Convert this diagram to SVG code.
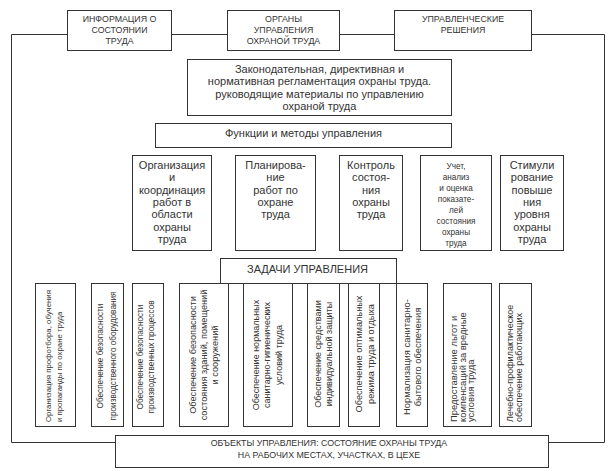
<svg xmlns="http://www.w3.org/2000/svg" width="615" height="470" viewBox="0 0 615 470">
<style>
rect{fill:#fff;stroke:#333;stroke-width:1}
.c{fill:none;stroke:#333;stroke-width:1}
text{font-family:"Liberation Sans",Arial,sans-serif;fill:#333;text-anchor:middle}
.t9{font-size:8.8px}
.t11{font-size:11px}
.t8{font-size:8.2px}
.s{text-anchor:start}
</style>
<rect x="0" y="0" width="615" height="470" style="stroke:none"/>
<g id="connectors">
<path class="c" d="M67.5 34.5H11.5V442.5H115.5"/>
<path class="c" d="M171.5 34.5H227.5"/>
<path class="c" d="M339.5 34.5H394.5"/>
<path class="c" d="M531.5 34.5H604.5V442.5H548.5"/>
</g>
<g id="info">
<rect x="67.5" y="10.5" width="104" height="40"/>
<text class="t9"><tspan x="119.5" y="22.3">ИНФОРМАЦИЯ О</tspan><tspan x="119.5" y="33.3">СОСТОЯНИИ</tspan><tspan x="119.5" y="44.3">ТРУДА</tspan></text>
</g>
<g id="organs">
<rect x="227.5" y="10.5" width="112" height="40"/>
<text class="t9"><tspan x="283.5" y="22.3">ОРГАНЫ</tspan><tspan x="283.5" y="33.3">УПРАВЛЕНИЯ</tspan><tspan x="283.5" y="44.3">ОХРАНОЙ ТРУДА</tspan></text>
</g>
<g id="decisions">
<rect x="394.5" y="10.5" width="137" height="40"/>
<text class="t9"><tspan x="463" y="22.3">УПРАВЛЕНЧЕСКИЕ</tspan><tspan x="463" y="33.3">РЕШЕНИЯ</tspan></text>
</g>
<g id="law">
<rect x="187.5" y="59.5" width="264" height="56"/>
<text class="t11"><tspan x="319.5" y="73">Законодательная, директивная и</tspan><tspan x="319.5" y="85.3">нормативная регламентация охраны труда.</tspan><tspan x="319.5" y="97.6">руководящие материалы по управлению</tspan><tspan x="319.5" y="110">охраной труда</tspan></text>
</g>
<g id="functions">
<rect x="155.5" y="123.5" width="296" height="24"/>
<text class="t11" x="303.5" y="137">Функции и методы управления</text>
</g>
<g id="f-org">
<rect x="132.5" y="155.5" width="79" height="95"/>
<text class="t11"><tspan x="172" y="169">Организация</tspan><tspan x="172" y="181.3">и</tspan><tspan x="172" y="193.6">координация</tspan><tspan x="172" y="206">работ в</tspan><tspan x="172" y="218.2">области</tspan><tspan x="172" y="230.5">охраны</tspan><tspan x="172" y="242.8">труда</tspan></text>
</g>
<g id="f-plan">
<rect x="235.5" y="155.5" width="80" height="95"/>
<text class="t11"><tspan x="275.5" y="169">Планирова-</tspan><tspan x="275.5" y="181.3">ние</tspan><tspan x="275.5" y="193.6">работ по</tspan><tspan x="275.5" y="206">охране</tspan><tspan x="275.5" y="218.2">труда</tspan></text>
</g>
<g id="f-control">
<rect x="339.5" y="155.5" width="63" height="95"/>
<text class="t11"><tspan x="371" y="169">Контроль</tspan><tspan x="371" y="181.3">состоя-</tspan><tspan x="371" y="193.6">ния</tspan><tspan x="371" y="206">охраны</tspan><tspan x="371" y="218.2">труда</tspan></text>
</g>
<g id="f-account">
<rect x="420.5" y="155.5" width="71" height="95"/>
<text class="t8"><tspan x="456" y="168.5">Учет,</tspan><tspan x="456" y="179.6">анализ</tspan><tspan x="456" y="190.7">и оценка</tspan><tspan x="456" y="201.8">показате-</tspan><tspan x="456" y="212.9">лей</tspan><tspan x="456" y="224">состояния</tspan><tspan x="456" y="235.1">охраны</tspan><tspan x="456" y="246.2">труда</tspan></text>
</g>
<g id="f-stim">
<rect x="500.5" y="155.5" width="63" height="95"/>
<text class="t11"><tspan x="532" y="169">Стимули</tspan><tspan x="532" y="181.3">рование</tspan><tspan x="532" y="193.6">повыше</tspan><tspan x="532" y="206">ния</tspan><tspan x="532" y="218.2">уровня</tspan><tspan x="532" y="230.5">охраны</tspan><tspan x="532" y="242.8">труда</tspan></text>
</g>
<g id="task1">
<rect x="35.5" y="283.5" width="40" height="143"/>
<text class="s" style="font-size:7.8px" transform="translate(50.5,422) rotate(-90)"><tspan x="0" y="0">Организация профотбора, обучения</tspan><tspan x="0" y="11.5">и пропаганды по охране труда</tspan></text>
</g>
<g id="task2">
<rect x="91.5" y="283.5" width="32" height="143"/>
<text style="font-size:8.2px" transform="translate(102.5,356) rotate(-90)"><tspan x="0" y="0">Обеспечение безопасности</tspan><tspan x="0" y="13">производственного оборудования</tspan></text>
</g>
<g id="task3">
<rect x="132.5" y="283.5" width="31" height="143"/>
<text style="font-size:8.2px" transform="translate(142.5,357) rotate(-90)"><tspan x="0" y="0">Обеспечение безопасности</tspan><tspan x="0" y="11.7">производственных процессов</tspan></text>
</g>
<g id="task4">
<rect x="179.5" y="283.5" width="49" height="143"/>
<text style="font-size:9.2px" transform="translate(196,355) rotate(-90)"><tspan x="0" y="0">Обеспечение безопасности</tspan><tspan x="0" y="11">состояния зданий, помещений</tspan><tspan x="0" y="22">и сооружений</tspan></text>
</g>
<g id="task5">
<rect x="243.5" y="283.5" width="49" height="143"/>
<text style="font-size:9px" transform="translate(258.5,355) rotate(-90)"><tspan x="0" y="0">Обеспечение нормальных</tspan><tspan x="0" y="11.5">санитарно-гигиенических</tspan><tspan x="0" y="23">условий труда</tspan></text>
</g>
<g id="task6">
<rect x="307.5" y="283.5" width="32" height="143"/>
<text style="font-size:9px" transform="translate(320.5,354) rotate(-90)"><tspan x="0" y="0">Обеспечение средствами</tspan><tspan x="0" y="11">индивидуальной защиты</tspan></text>
</g>
<g id="task7">
<rect x="348.5" y="283.5" width="31" height="143"/>
<text style="font-size:9.2px" transform="translate(361.5,354) rotate(-90)"><tspan x="0" y="0">Обеспечение оптимальных</tspan><tspan x="0" y="12">режима труда и отдыха</tspan></text>
</g>
<g id="task8">
<rect x="396.5" y="283.5" width="31" height="143"/>
<text style="font-size:9.4px" transform="translate(410,357) rotate(-90)"><tspan x="0" y="0">Нормализация санитарно-</tspan><tspan x="0" y="11">бытового обеспечения</tspan></text>
</g>
<g id="task9">
<rect x="443.5" y="283.5" width="48" height="143"/>
<text class="s" style="font-size:9.4px" transform="translate(457,422) rotate(-90)"><tspan x="0" y="0">Предоставление льгот и</tspan><tspan x="0" y="8.5">компенсаций за вредные</tspan><tspan x="0" y="17">условия труда</tspan></text>
</g>
<g id="task10">
<rect x="499.5" y="283.5" width="32" height="143"/>
<text class="s" style="font-size:9px" transform="translate(512.5,422) rotate(-90)"><tspan x="0" y="0">Лечебно-профилактическое</tspan><tspan x="0" y="9">обеспечение работающих</tspan></text>
</g>
<g id="tasks">
<rect x="220.5" y="258.5" width="176" height="25"/>
<text class="t11" x="307.5" y="273">ЗАДАЧИ УПРАВЛЕНИЯ</text>
</g>
<g id="objects">
<rect x="115.5" y="435.5" width="433" height="32"/>
<text class="t9"><tspan x="329" y="446.3">ОБЪЕКТЫ УПРАВЛЕНИЯ: СОСТОЯНИЕ ОХРАНЫ ТРУДА</tspan><tspan x="329" y="458.3">НА РАБОЧИХ МЕСТАХ, УЧАСТКАХ, В ЦЕХЕ</tspan></text>
</g>
</svg>
